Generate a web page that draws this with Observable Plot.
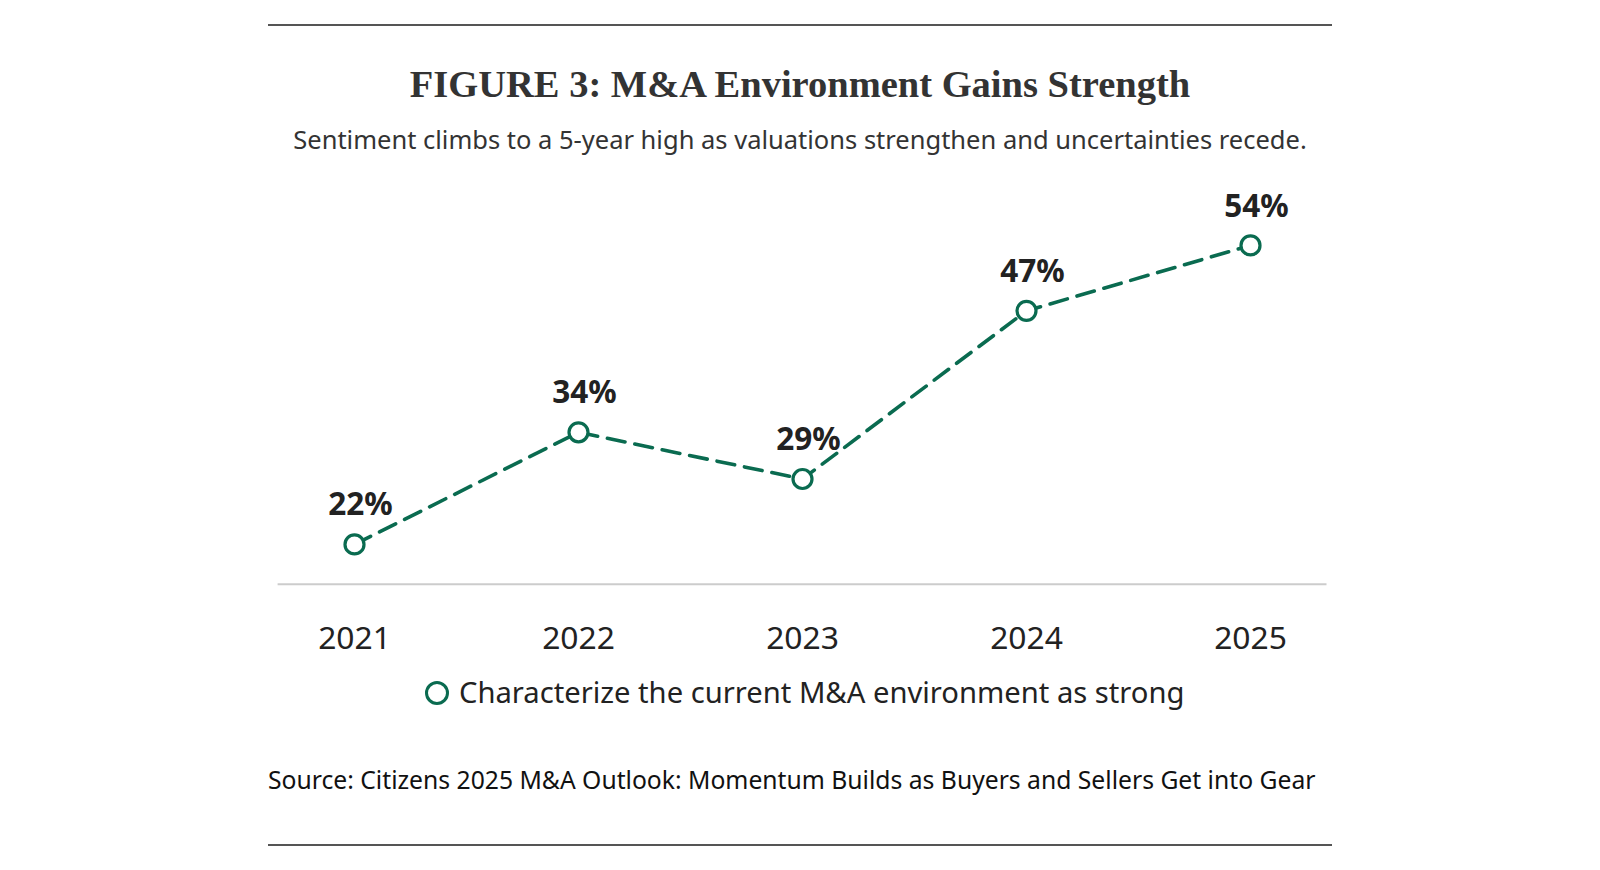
<!DOCTYPE html>
<html>
<head>
<meta charset="utf-8">
<script src="https://cdn.jsdelivr.net/npm/d3@7"></script>
<script src="https://cdn.jsdelivr.net/npm/@observablehq/plot@0.6"></script>
<style>
  html, body { margin: 0; padding: 0; background: #fff; width: 1600px; height: 870px; overflow: hidden; }
  .abs { position: absolute; }
  .rule { left: 268px; width: 1064px; height: 2px; background: #555; }
  .title { left: 0; width: 1600px; text-align: center; top: 62px; line-height: 44px; font-family: "Liberation Serif", serif; font-weight: 700; font-size: 38.5px; color: #333; }
  .subtitle { left: 0; width: 1600px; text-align: center; top: 124px; line-height: 30px; font-family: "Noto Sans", sans-serif; font-size: 25.5px; color: #333; }
  #chart { left: 268px; top: 172px; }
  .legend { left: 425px; top: 672px; line-height: 40px; font-family: "Noto Sans", sans-serif; font-size: 29.2px; color: #222; white-space: nowrap; }
  .legend .sw { display: inline-block; width: 18px; height: 18px; border: 3.5px solid #0a6b50; border-radius: 50%; vertical-align: -2px; margin-right: 10px; }
  .source { left: 268px; top: 765px; line-height: 30px; font-family: "Noto Sans", sans-serif; font-size: 24.7px; color: #111; white-space: nowrap; }
</style>
</head>
<body>
<div class="abs rule" style="top:23.5px"></div>
<div class="abs title">FIGURE 3: M&amp;A Environment Gains Strength</div>
<div class="abs subtitle">Sentiment climbs to a 5-year high as valuations strengthen and uncertainties recede.</div>
<div class="abs" id="chart"></div>
<div class="abs legend"><span class="sw"></span>Characterize the current M&amp;A environment as strong</div>
<div class="abs source">Source: Citizens 2025 M&amp;A Outlook: Momentum Builds as Buyers and Sellers Get into Gear</div>
<div class="abs rule" style="top:844px"></div>
<script>
const years = ["2021", "2022", "2023", "2024", "2025"];
const strongPct = [22, 34, 29, 47, 54];
const labels = ["22%", "34%", "29%", "47%", "54%"];

const data = years.map((y, i) => ({year: y, value: strongPct[i], label: labels[i]}));
const green = "#0a6b50";
const yMin = 17.74, yMax = 57.31;

const chart = Plot.plot({
  width: 1064,
  height: 500,
  marginLeft: 9.6,
  marginRight: 5.5,
  marginTop: 42,
  marginBottom: 88.3,
  style: { fontFamily: "Noto Sans, sans-serif", background: "transparent" },
  x: { type: "point", domain: years, padding: 0.339, label: null },
  y: { domain: [yMin, yMax], axis: null },
  marks: [
    Plot.ruleY([yMin], { stroke: "#cccccc", strokeWidth: 2 }),
    Plot.axisX({ tickSize: 0, tickPadding: 42, fontSize: 31.8, color: "#222", label: null }),
    Plot.line(data, { x: "year", y: "value", stroke: green, strokeWidth: 3.6, strokeDasharray: "18 10" }),
    Plot.dot(data, { x: "year", y: "value", r: 9.5, fill: "white", stroke: green, strokeWidth: 3.2 }),
    Plot.text(data, { x: "year", y: "value", text: "label", dy: -39, dx: 6, fontSize: 31.5, fontWeight: "bold", fill: "#222" })
  ]
});
document.getElementById("chart").appendChild(chart);
</script>
</body>
</html>
